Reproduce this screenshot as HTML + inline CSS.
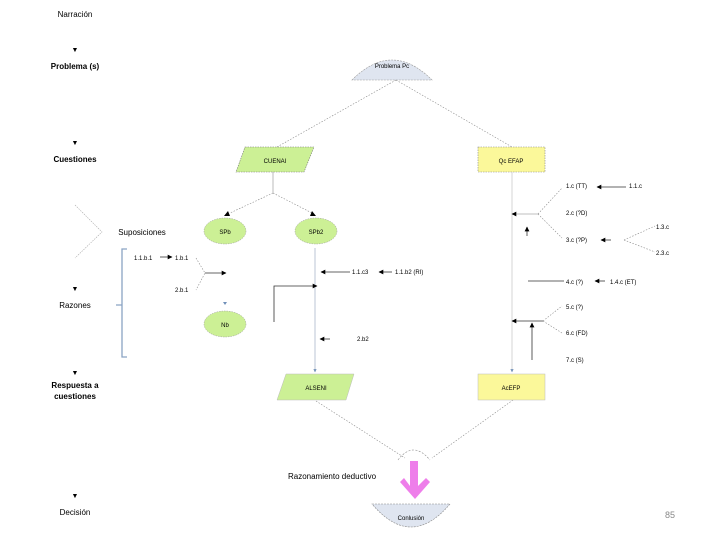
<!DOCTYPE html>
<html><head><meta charset="utf-8"><style>
html,body{margin:0;padding:0;background:#fff;}
svg{display:block;font-family:"Liberation Sans",sans-serif;}
</style></head><body>
<svg width="720" height="540" viewBox="0 0 720 540">
<defs>
<marker id="a" viewBox="0 0 10 10" refX="9" refY="5" markerWidth="6" markerHeight="6" orient="auto"><path d="M0,0L10,5L0,10z" fill="#000"/></marker>
<marker id="b" viewBox="0 0 10 10" refX="9" refY="5" markerWidth="4" markerHeight="4" orient="auto"><path d="M0,0L10,5L0,10z" fill="#6f8fb8"/></marker>
</defs>
<g font-size="8" font-weight="bold" text-anchor="middle" fill="#000">
<text x="75" y="17" font-weight="normal">Narración</text>
<text x="75" y="52" font-size="7">▼</text>
<text x="75" y="69">Problema (s)</text>
<text x="75" y="145" font-size="7">▼</text>
<text x="75" y="162">Cuestiones</text>
<text x="142" y="235" font-weight="normal">Suposiciones</text>
<text x="75" y="291" font-size="7">▼</text>
<text x="75" y="308" font-weight="normal">Razones</text>
<text x="75" y="375" font-size="7">▼</text>
<text x="75" y="388">Respuesta a</text>
<text x="75" y="399">cuestiones</text>
<text x="75" y="498" font-size="7">▼</text>
<text x="75" y="515" font-weight="normal">Decisión</text>
<text x="332" y="479" font-weight="normal">Razonamiento deductivo</text>
</g>
<path d="M75,205L102,232L75,258" fill="none" stroke="#aaa" stroke-width="0.6" stroke-dasharray="1.5,1"/>
<path d="M127,249h-5v108h5M122,305h-6" fill="none" stroke="#8aa3c4" stroke-width="1.3"/>
<path d="M352,80Q392,40 432,80Z" fill="#dfe5f0" stroke="#999" stroke-width="0.6" stroke-dasharray="2,1"/>
<text x="392" y="68" font-size="6" text-anchor="middle">Problema Pc</text>
<g stroke="#888" stroke-width="0.6" stroke-dasharray="1.5,1.5" fill="none">
<path d="M396,80L277,147M396,80L512,147"/>
<path d="M273,193L230,213M273,193L312,213"/>
<path d="M316,401L405,458M513,400L432,458"/>
<path d="M196,258L205,273L196,290"/>
<path d="M538,214L562,188M538,214L562,238M624,240L655,226M624,240L655,252"/>
<path d="M543,321L562,306M543,321L562,333"/>
</g>
<path d="M245,147H314L304,172H236Z" fill="#ccf095" stroke="#777" stroke-width="0.6" stroke-dasharray="1.5,1"/>
<text x="275" y="163" font-size="6" text-anchor="middle">CUENAI</text>
<rect x="478" y="147" width="67" height="25" fill="#fbf89a" stroke="#888" stroke-width="0.6" stroke-dasharray="1.5,1"/>
<text x="511" y="163" font-size="6" text-anchor="middle">Qc EFAP</text>
<line x1="273" y1="172" x2="273" y2="193" stroke="#aaa" stroke-width="0.8"/>
<path d="M228,211l-4,5h6z M312,211l4,5h-6z" fill="#000"/>
<ellipse cx="225" cy="231" rx="21" ry="13" fill="#ccf095" stroke="#999" stroke-width="0.5" stroke-dasharray="1.5,1"/>
<text x="225" y="234" font-size="6" text-anchor="middle">SPb</text>
<ellipse cx="316" cy="231" rx="21" ry="13" fill="#ccf095" stroke="#999" stroke-width="0.5" stroke-dasharray="1.5,1"/>
<text x="316" y="234" font-size="6" text-anchor="middle">SPb2</text>
<ellipse cx="225" cy="324" rx="21" ry="13" fill="#ccf095" stroke="#999" stroke-width="0.5" stroke-dasharray="1.5,1"/>
<text x="225" y="327" font-size="6" text-anchor="middle">Nb</text>
<line x1="315" y1="248" x2="315" y2="372" stroke="#aab8cc" stroke-width="0.8" marker-end="url(#b)"/>
<line x1="512" y1="172" x2="512" y2="372" stroke="#ccc" stroke-width="0.8" marker-end="url(#b)"/>
<path d="M225,305l-2,-3h4z" fill="#6f8fb8"/>
<path d="M286,374H354L346,400H277Z" fill="#ccf095" stroke="#bbb" stroke-width="0.5"/>
<text x="316" y="390" font-size="6" text-anchor="middle">ALSENI</text>
<rect x="478" y="374" width="67" height="26" fill="#fbf89a" stroke="#bbb" stroke-width="0.5"/>
<text x="511" y="390" font-size="6" text-anchor="middle">AcEFP</text>
<path d="M398,460Q413,440 430,460" fill="none" stroke="#888" stroke-width="0.6" stroke-dasharray="2,1.5"/>
<path d="M410,461h8v25l8,-8l4,4l-15,17l-15,-17l4,-4l6,8z" fill="#ee7eea"/>
<path d="M372,504H450Q411,550 372,504Z" fill="#dfe5f0" stroke="#888" stroke-width="0.6" stroke-dasharray="2,1"/>
<text x="411" y="520" font-size="6" text-anchor="middle">Conlusión</text>
<text x="670" y="518" font-size="9" fill="#888" text-anchor="middle">85</text>
<g stroke="#333" stroke-width="0.8" fill="none">
<line x1="160" y1="257" x2="172" y2="257" marker-end="url(#a)"/>
<line x1="205" y1="273" x2="226" y2="273" marker-end="url(#a)"/>
<line x1="350" y1="272" x2="321" y2="272" marker-end="url(#a)"/>
<line x1="392" y1="272" x2="379" y2="272" marker-end="url(#a)"/>
<path d="M274,322V286H317" marker-end="url(#a)"/>
<line x1="330" y1="339" x2="320" y2="339" marker-end="url(#a)"/>
<line x1="626" y1="187" x2="597" y2="187" marker-end="url(#a)"/>
<line x1="538" y1="214" x2="512" y2="214" stroke="#aaa" marker-end="url(#a)"/>
<line x1="527" y1="236" x2="527" y2="227" marker-end="url(#a)"/>
<line x1="611" y1="240" x2="601" y2="240" marker-end="url(#a)"/>
<line x1="528" y1="281" x2="564" y2="281"/>
<line x1="605" y1="281" x2="595" y2="281" marker-end="url(#a)"/>
<line x1="543" y1="321" x2="512" y2="321" marker-end="url(#a)"/>
<line x1="532" y1="360" x2="532" y2="323" marker-end="url(#a)"/>
</g>
<g font-size="6" fill="#000">
<text x="134" y="260">1.1.b.1</text>
<text x="175" y="260">1.b.1</text>
<text x="175" y="292">2.b.1</text>
<text x="352" y="274">1.1.c3</text>
<text x="395" y="274">1.1.b2 (RI)</text>
<text x="357" y="341">2.b2</text>
<text x="566" y="188">1.c (TT)</text>
<text x="629" y="188">1.1.c</text>
<text x="566" y="215">2.c (?D)</text>
<text x="566" y="242">3.c (?P)</text>
<text x="656" y="229">1.3.c</text>
<text x="656" y="255">2.3.c</text>
<text x="566" y="284">4.c (?)</text>
<text x="610" y="284">1.4.c (ET)</text>
<text x="566" y="309">5.c (?)</text>
<text x="566" y="335">6.c (FD)</text>
<text x="566" y="362">7.c (S)</text>
</g>
</svg>
</body></html>
